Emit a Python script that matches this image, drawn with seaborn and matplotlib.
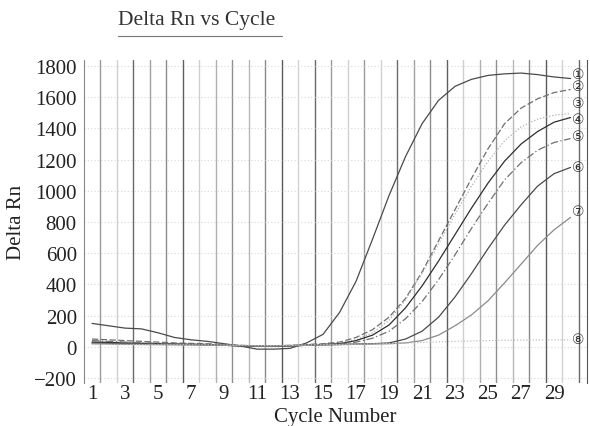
import numpy as np
import pandas as pd
import seaborn as sns
import matplotlib
matplotlib.use("Agg")
import matplotlib.pyplot as plt
from matplotlib.lines import Line2D

## data
cycles = list(range(1, 31))
curve_1 = [150, 135, 120, 115, 90, 60, 45, 35, 20, 5, -15, -15, -10, 25, 80, 220, 420, 690, 970, 1220,
           1430, 1580, 1670, 1715, 1740, 1750, 1755, 1745, 1730, 1720]
curve_2 = [50, 45, 40, 35, 30, 25, 22, 20, 15, 10, 5, 5, 10, 15, 20, 30, 60, 110, 190, 310,
           480, 680, 880, 1080, 1270, 1430, 1530, 1590, 1630, 1650]
curve_3 = [35, 30, 28, 25, 22, 20, 18, 15, 12, 8, 5, 5, 8, 12, 18, 25, 45, 90, 170, 300,
           470, 660, 850, 1030, 1190, 1320, 1410, 1460, 1485, 1495]
curve_4 = [30, 28, 25, 22, 20, 18, 16, 14, 10, 6, 3, 3, 6, 10, 15, 20, 40, 75, 140, 250,
           390, 550, 720, 890, 1050, 1190, 1300, 1380, 1440, 1470]
curve_5 = [40, 35, 30, 25, 22, 20, 18, 15, 12, 8, 5, 5, 8, 12, 15, 18, 30, 55, 100, 180,
           290, 430, 590, 760, 920, 1070, 1180, 1260, 1310, 1335]
curve_6 = [25, 22, 20, 18, 16, 15, 14, 12, 10, 6, 3, 3, 5, 10, 12, 15, 18, 20, 25, 50,
           100, 190, 320, 470, 630, 780, 910, 1030, 1110, 1150]
curve_7 = [20, 18, 16, 15, 14, 13, 12, 11, 10, 8, 5, 5, 7, 10, 12, 14, 16, 18, 20, 25,
           40, 75, 135, 205, 295, 410, 530, 650, 750, 830]
curve_8 = [15, 15, 14, 14, 13, 13, 12, 12, 12, 10, 8, 8, 10, 12, 14, 15, 16, 18, 20, 24,
           28, 32, 35, 38, 40, 42, 43, 44, 45, 45]

curve_names = ["1", "2", "3", "4", "5", "6", "7", "8"]
curve_marks = ["\u2460", "\u2461", "\u2462", "\u2463", "\u2464", "\u2465", "\u2466", "\u2467"]
mark_y = [1750, 1670, 1565, 1460, 1350, 1150, 870, 50]
y_ticks = [-200, 0, 200, 400, 600, 800, 1000, 1200, 1400, 1600, 1800]
x_ticks = [1, 3, 5, 7, 9, 11, 13, 15, 17, 19, 21, 23, 25, 27, 29]

all_curves = [curve_1, curve_2, curve_3, curve_4, curve_5, curve_6, curve_7, curve_8]
df = pd.concat([pd.DataFrame({"cycle": cycles, "delta_rn": vals, "curve": name})
                for name, vals in zip(curve_names, all_curves)], ignore_index=True)

sns.set_style("white")
plt.rcParams["font.family"] = ["Liberation Serif", "DejaVu Sans"]
plt.rcParams["axes.unicode_minus"] = True

fig = plt.figure(figsize=(5.9, 4.27), dpi=100)
ax = fig.add_axes([0.142, 0.1014, 0.853, 0.7562])

# scanned vertical grid, uneven darkness
shades = ["#9a9a9a", "#d0d0d0", "#6a6a6a", "#a0a0a0", "#8c8c8c", "#5e5e5e", "#cfcfcf", "#b0b0b0",
          "#8f8f8f", "#b8b8b8", "#8a8a8a", "#5a5a5a", "#d2d2d2", "#6a6a6a", "#9a9a9a", "#d0d0d0"]
for i, xv in enumerate(np.arange(1.5, 31, 1.0)):
    ax.axvline(xv, color=shades[i % len(shades)], lw=1.0, zorder=0)
for yv in y_ticks:
    ax.axhline(yv, color="#d8d8d8", lw=0.8, ls=(0, (1, 2)), zorder=0)

palette = {"1": "#4a4a4a", "2": "#6e6e6e", "3": "#b0b0b0", "4": "#2e2e2e",
           "5": "#707070", "6": "#4a4a4a", "7": "#8a8a8a", "8": "#c0c0c0"}
dashes = {"1": "", "2": (5, 2), "3": (1, 1.5), "4": "", "5": (6, 2, 1, 2),
          "6": "", "7": "", "8": (1, 1.5)}
sns.lineplot(data=df, x="cycle", y="delta_rn", hue="curve", style="curve",
             palette=palette, dashes=dashes, linewidth=0.9, legend=False, ax=ax)

for mk, yv in zip(curve_marks, mark_y):
    ax.text(30.45, yv, mk, ha="center", va="center", fontsize=10, color="#333333",
            family=["DejaVu Sans"])

ax.set_xlim(0.5, 31)
ax.set_ylim(-230, 1840)
ax.set_xticks(x_ticks)
ax.set_yticks(y_ticks)
ax.tick_params(length=0, labelsize=15, colors="#222222")
ax.tick_params(axis="x", pad=1)
ax.tick_params(axis="y", pad=5)
for side in ["top", "bottom"]:
    ax.spines[side].set_visible(False)
ax.spines["left"].set_color("#888888")
ax.spines["right"].set_color("#555555")

ax.set_xlabel("Cycle Number", fontsize=15, color="#222222", labelpad=3)
ax.set_ylabel("Delta Rn", fontsize=15, color="#222222")
ax.yaxis.set_label_coords(-0.115, 0.5)

fig.text(0.2, 0.953, "Delta Rn vs Cycle", ha="left", va="center", fontsize=15.5, color="#333333")
fig.add_artist(Line2D([0.2, 0.478], [0.913, 0.913], color="#777777", lw=0.8))

fig.savefig("out.png", dpi=100)
